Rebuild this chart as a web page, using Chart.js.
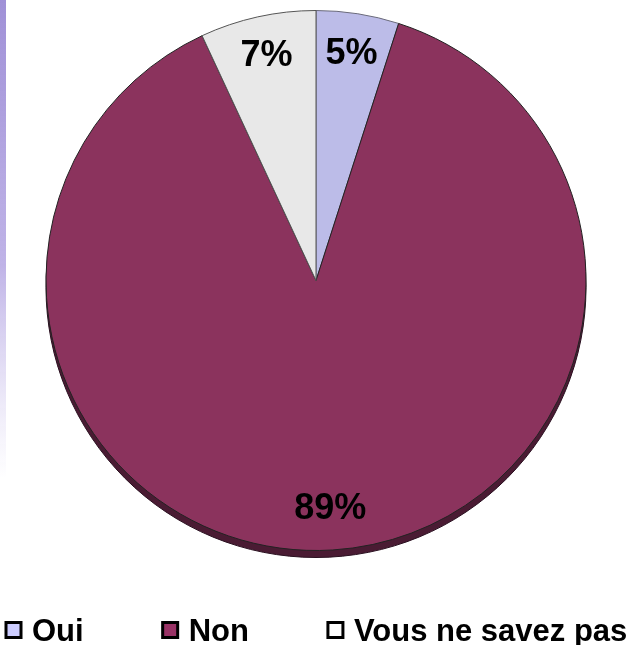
<!DOCTYPE html>
<html>
<head>
<meta charset="utf-8">
<script src="https://cdn.jsdelivr.net/npm/chart.js@4"></script>
<style>
  body { margin: 0; background: #fff; }
  canvas { display: block; }
</style>
</head>
<body>
<canvas id="chart-1" width="636" height="645"></canvas>
<script>
// data
const categories = ["Oui", "Non", "Vous ne savez pas"];
const percentages = [5, 89, 7];

const sliceColors = ["#BCBCE8", "#8B335D", "#E8E8E8"];
const legendColors = ["#CCCCFF", "#993366", "#FFFFFF"];
const FONT = "'Liberation Sans', Arial, sans-serif";

// faded lavender strip on the left edge of the slide
const sideStrip = {
  id: "sideStrip",
  beforeDraw(chart) {
    const c = chart.ctx;
    const g = c.createLinearGradient(0, 0, 0, 480);
    g.addColorStop(0, "rgba(160,145,215,1)");
    g.addColorStop(0.55, "rgba(175,160,225,0.8)");
    g.addColorStop(1, "rgba(200,190,235,0)");
    c.save();
    c.fillStyle = g;
    c.fillRect(0, 0, 6, 480);
    c.restore();
  },
};

// dark edge under the pie (the 3d rim)
const pieRim = {
  id: "pieRim",
  beforeDatasetsDraw(chart) {
    const arc = chart.getDatasetMeta(0).data[0];
    if (!arc) return;
    const c = chart.ctx;
    c.save();
    c.beginPath();
    c.arc(arc.x, arc.y + 7, arc.outerRadius, 0, Math.PI * 2);
    c.fillStyle = "#4A1B33";
    c.fill();
    c.lineWidth = 1;
    c.strokeStyle = "#2a1020";
    c.stroke();
    c.restore();
  },
};

// percentage labels inside the slices
const sliceLabels = {
  id: "sliceLabels",
  afterDatasetsDraw(chart) {
    const c = chart.ctx;
    c.save();
    c.font = "bold 36px " + FONT;
    c.fillStyle = "#000";
    c.textAlign = "center";
    c.textBaseline = "middle";
    chart.getDatasetMeta(0).data.forEach((arc, i) => {
      const mid = (arc.startAngle + arc.endAngle) / 2;
      const r = arc.outerRadius * 0.85;
      c.fillText(percentages[i] + "%", arc.x + Math.cos(mid) * r, arc.y + Math.sin(mid) * r);
    });
    c.restore();
  },
};

// legend row at the bottom, evenly spaced like the original
const bottomLegend = {
  id: "bottomLegend",
  afterDraw(chart) {
    const c = chart.ctx;
    const y = 631;
    const box = 15;
    let x = 6;
    c.save();
    c.font = "bold 31px " + FONT;
    c.textBaseline = "middle";
    categories.forEach((name, i) => {
      c.fillStyle = legendColors[i];
      c.fillRect(x, y - box / 2 - 1, box, box);
      c.lineWidth = 3;
      c.strokeStyle = "#000";
      c.strokeRect(x, y - box / 2 - 1, box, box);
      c.fillStyle = "#000";
      c.fillText(name, x + box + 11, y + 1);
      x += box + 11 + c.measureText(name).width + 79;
    });
    c.restore();
  },
};

const ctx1 = document.getElementById("chart-1").getContext("2d");
const myChart = new Chart(ctx1, {
  type: "pie",
  data: {
    labels: categories,
    datasets: [
      {
        data: percentages,
        backgroundColor: sliceColors,
        borderColor: ["#6a6a7a", "#222222", "#555555"],
        borderWidth: 1,
      },
    ],
  },
  options: {
    responsive: false,
    animation: false,
    layout: { padding: { top: 10, bottom: 94, left: 0, right: 4 } },
    plugins: {
      legend: { display: false },
      tooltip: { enabled: false },
    },
  },
  plugins: [sideStrip, pieRim, sliceLabels, bottomLegend],
});
</script>
</body>
</html>
